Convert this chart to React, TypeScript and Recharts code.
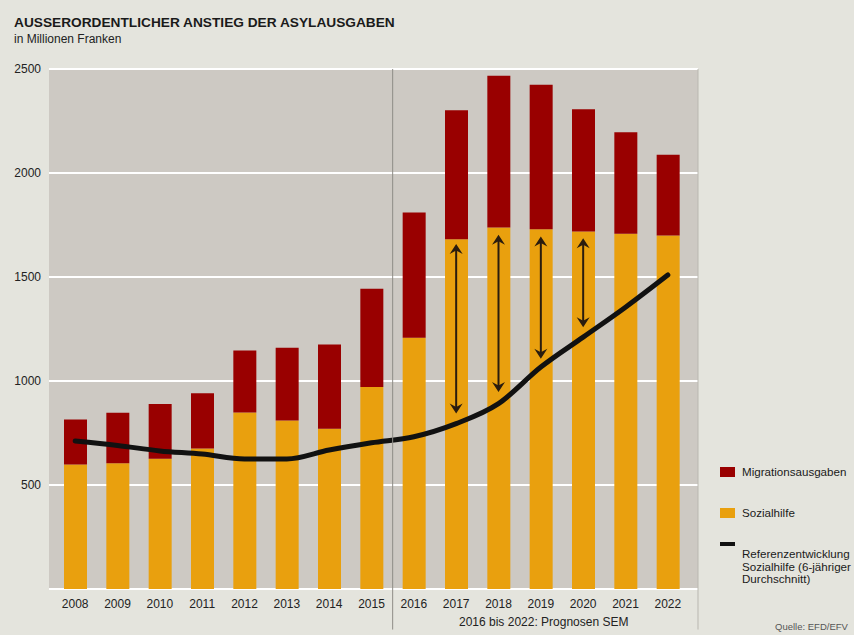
import React from 'react';
import {
  Bar,
  CartesianGrid,
  ComposedChart,
  Legend,
  Line,
  ReferenceLine,
  XAxis,
  YAxis,
} from 'recharts';

// Values (Mio. Franken).
const YEARS = [
  '2008', '2009', '2010', '2011', '2012', '2013', '2014', '2015',
  '2016', '2017', '2018', '2019', '2020', '2021', '2022',
];
const SOZIALHILFE = [599, 604, 626, 676, 848, 810, 770, 971, 1208, 1681, 1738, 1729, 1719, 1708, 1699];
const MIGRATION = [216, 243, 264, 265, 299, 350, 406, 473, 602, 621, 729, 695, 587, 488, 389];
const REFERENZ = [711, 690, 664, 649, 625, 625, 668, 703, 732, 795, 891, 1067, 1211, 1355, 1510];

// Double arrows between Sozialhilfe and reference line.
const ARROW_YEARS = ['2017', '2018', '2019', '2020'];
const ARROW_TOP = [1659, 1703, 1695, 1686];
const ARROW_BOTTOM = [844, 947, 1107, 1259];

const FORECAST_START = '2016';
const LAST_YEAR = '2022';

const Y_TICKS = [0, 500, 1000, 1500, 2000, 2500];

const COLOR_MIGRATION = '#990000';
const COLOR_SOZIAL = '#e9a00e';
const COLOR_LINE = '#111111';
const COLOR_ARROW = '#2a1c0e';
const PAGE_BG = '#e4e4dd';
const PLOT_BG = '#cdc9c3';
const FONT = '"Liberation Sans", Arial, sans-serif';

const data = YEARS.map((year, i) => ({
  year,
  sozialhilfe: SOZIALHILFE[i],
  migration: MIGRATION[i],
  referenz: REFERENZ[i],
}));

function DoubleArrow(props: any) {
  const { x1, y1, y2 } = props;
  const top = Math.min(y1, y2);
  const bot = Math.max(y1, y2);
  const w = 6.5;
  const h = 10;
  return (
    <g>
      <line x1={x1} x2={x1} y1={top + 4} y2={bot - 4} stroke={COLOR_ARROW} strokeWidth={2} />
      <path
        d={`M${x1},${top} L${x1 + w},${top + h} L${x1},${top + 6.5} L${x1 - w},${top + h} Z`}
        fill={COLOR_ARROW}
      />
      <path
        d={`M${x1},${bot} L${x1 + w},${bot - h} L${x1},${bot - 6.5} L${x1 - w},${bot - h} Z`}
        fill={COLOR_ARROW}
      />
    </g>
  );
}

function LegendBox() {
  const txt: React.CSSProperties = {
    position: 'absolute',
    left: 22,
    fontSize: 11.6,
    lineHeight: '12.5px',
    color: '#1a1a1a',
    whiteSpace: 'nowrap',
  };
  return (
    <div style={{ position: 'relative', width: 132, height: 130, fontFamily: FONT }}>
      <div style={{ position: 'absolute', left: 0, top: 5, width: 15, height: 10, background: COLOR_MIGRATION }} />
      <div style={{ ...txt, top: 4 }}>Migrationsausgaben</div>
      <div style={{ position: 'absolute', left: 0, top: 46, width: 15, height: 10, background: COLOR_SOZIAL }} />
      <div style={{ ...txt, top: 45 }}>Sozialhilfe</div>
      <div style={{ position: 'absolute', left: 0, top: 80, width: 15, height: 3.5, background: COLOR_LINE }} />
      <div style={{ ...txt, top: 86 }}>
        Referenzentwicklung
        <br />
        Sozialhilfe (6-jähriger
        <br />
        Durchschnitt)
      </div>
    </div>
  );
}

export default function App() {
  return (
    <div
      style={{
        position: 'absolute',
        left: 0,
        top: 0,
        width: 854,
        height: 635,
        background: PAGE_BG,
        overflow: 'hidden',
        fontFamily: FONT,
      }}
    >
      <div
        style={{
          position: 'absolute',
          left: 14,
          top: 16,
          fontSize: 13.7,
          lineHeight: '13.7px',
          fontWeight: 700,
          color: '#1a1a1a',
          whiteSpace: 'nowrap',
        }}
      >
        AUSSERORDENTLICHER ANSTIEG DER ASYLAUSGABEN
      </div>
      <div
        style={{
          position: 'absolute',
          left: 14,
          top: 33,
          fontSize: 12,
          lineHeight: '12px',
          color: '#222',
          whiteSpace: 'nowrap',
        }}
      >
        in Millionen Franken
      </div>

      <ComposedChart
        width={854}
        height={635}
        data={data}
        margin={{ top: 69, right: 156, bottom: 16, left: 9 }}
      >
        <CartesianGrid
          horizontal
          vertical={false}
          stroke="#ffffff"
          strokeWidth={2}
          fill={PLOT_BG}
          fillOpacity={1}
        />
        <XAxis
          dataKey="year"
          interval={0}
          axisLine={false}
          tickLine={false}
          tickMargin={4}
          padding={{ left: 5, right: 9 }}
          tick={{ fontSize: 12, fill: '#222', fontFamily: FONT }}
        />
        {/* same categories without padding, used for the plot's right edge line */}
        <XAxis xAxisId="edge" dataKey="year" hide />
        <YAxis
          width={40}
          domain={[0, 2500]}
          ticks={Y_TICKS}
          axisLine={false}
          tickLine={false}
          tickFormatter={(v: number) => (v === 0 ? '' : String(v))}
          tick={{ fontSize: 12, fill: '#222', fontFamily: FONT }}
        />
        <Bar
          dataKey="sozialhilfe"
          name="Sozialhilfe"
          stackId="asyl"
          fill={COLOR_SOZIAL}
          barSize={23}
          isAnimationActive={false}
        />
        <Bar
          dataKey="migration"
          name="Migrationsausgaben"
          stackId="asyl"
          fill={COLOR_MIGRATION}
          barSize={23}
          isAnimationActive={false}
        />
        <Line
          dataKey="referenz"
          name="Referenzentwicklung Sozialhilfe (6-jähriger Durchschnitt)"
          type="monotone"
          stroke={COLOR_LINE}
          strokeWidth={5}
          strokeLinecap="round"
          dot={false}
          activeDot={false}
          isAnimationActive={false}
        />
        {ARROW_YEARS.map((year, i) => (
          <ReferenceLine
            key={year}
            segment={[
              { x: year, y: ARROW_TOP[i] },
              { x: year, y: ARROW_BOTTOM[i] },
            ]}
            shape={DoubleArrow}
          />
        ))}
        {/* divider between actual values and SEM forecasts */}
        <ReferenceLine
          position="start"
          segment={[
            { x: FORECAST_START, y: 2500 },
            { x: FORECAST_START, y: -195 },
          ]}
          ifOverflow="visible"
          stroke="#8f8c86"
          strokeWidth={1}
        />
        <ReferenceLine
          xAxisId="edge"
          position="end"
          segment={[
            { x: LAST_YEAR, y: 2500 },
            { x: LAST_YEAR, y: -195 },
          ]}
          ifOverflow="visible"
          stroke="#b9b7b0"
          strokeWidth={1}
        />
        <Legend
          layout="vertical"
          align="center"
          verticalAlign="middle"
          wrapperStyle={{ left: 720, top: 462, width: 132, height: 130 }}
          content={() => <LegendBox />}
        />
      </ComposedChart>

      <div
        style={{
          position: 'absolute',
          left: 459,
          top: 616,
          fontSize: 12,
          lineHeight: '12px',
          color: '#222',
          whiteSpace: 'nowrap',
        }}
      >
        2016 bis 2022: Prognosen SEM
      </div>
      <div
        style={{
          position: 'absolute',
          left: 775,
          top: 622,
          fontSize: 9.5,
          lineHeight: '10px',
          color: '#555',
          whiteSpace: 'nowrap',
        }}
      >
        Quelle: EFD/EFV
      </div>
    </div>
  );
}
